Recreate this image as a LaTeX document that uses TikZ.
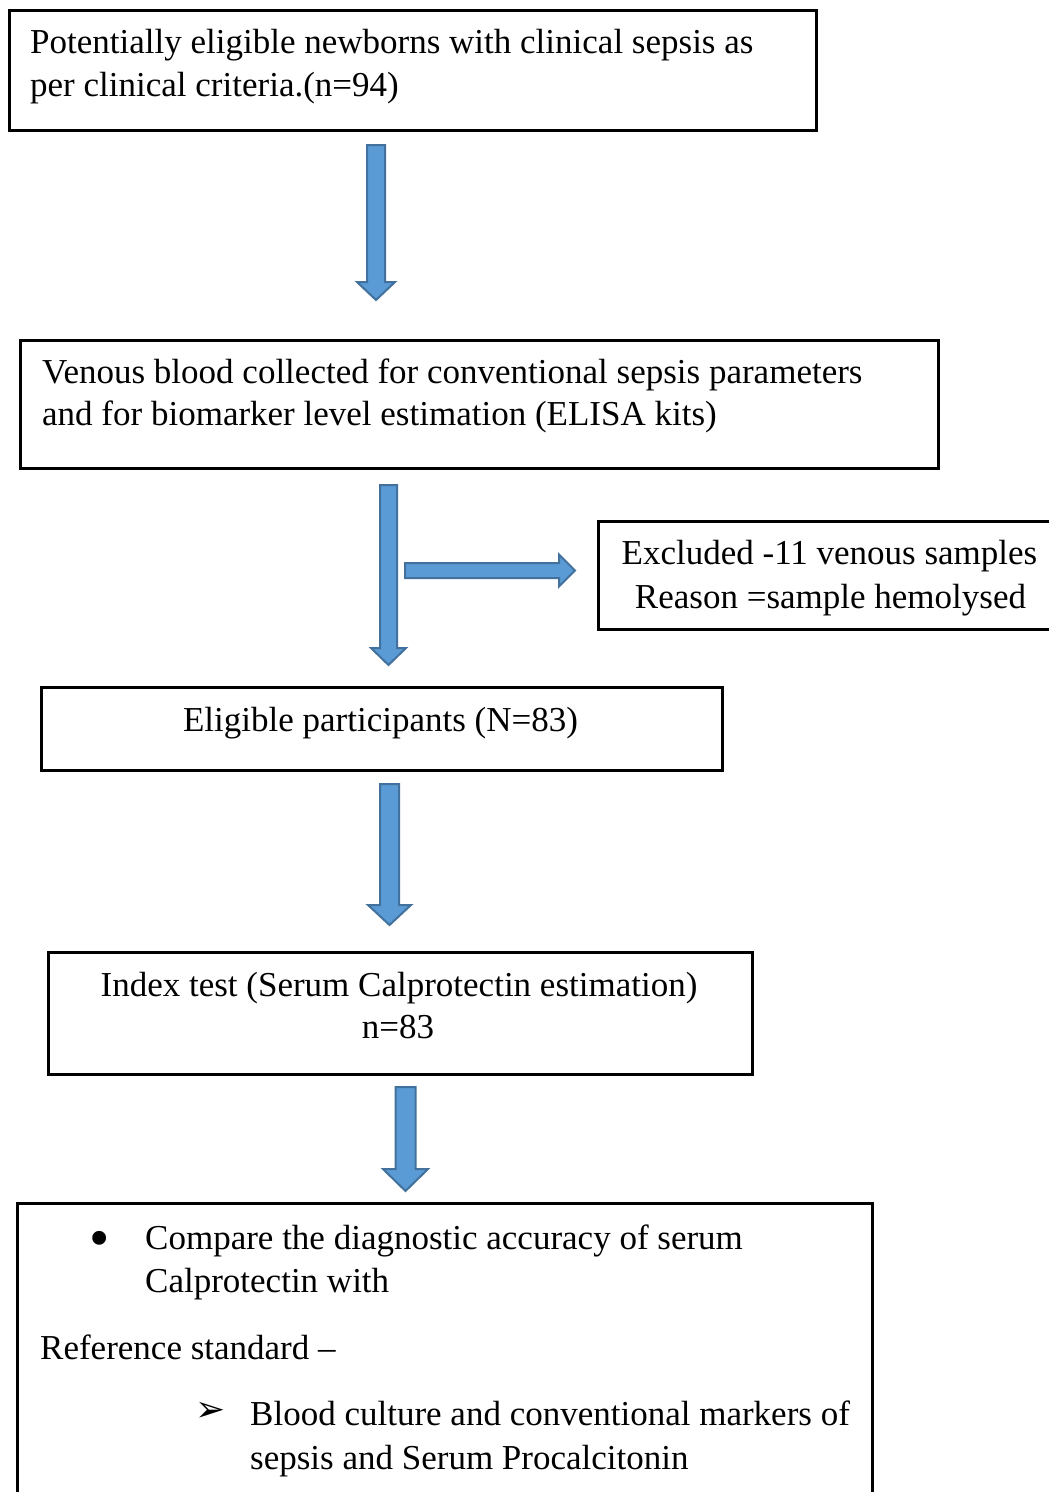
\documentclass[tikz,border=0pt]{standalone}
\usepackage{fontspec}
\setmainfont{Liberation Serif}
\newfontfamily\symfont{DejaVu Sans}
\usetikzlibrary{calc}
\definecolor{arrfill}{HTML}{5B9BD5}
\definecolor{arrdraw}{HTML}{41719C}
\tikzset{
  box/.style={draw=black, line width=2.5pt, rectangle, inner sep=0pt, anchor=north west},
  txt/.style={inner sep=0pt, font=\fontsize{35}{43}\selectfont},
  barrow/.style={fill=arrfill, draw=arrdraw, line width=2pt, line join=miter}
}
% vertical block arrow: start, tip, shaft half width, head half width, head length
\newcommand\blockarrowV[5]{\draw[barrow] let \p1=(#1), \p2=(#2) in
  (\x1-#3,\y1) -- (\x1+#3,\y1) -- (\x1+#3,\y2+#5) -- (\x1+#4,\y2+#5) -- (\x1,\y2)
  -- (\x1-#4,\y2+#5) -- (\x1-#3,\y2+#5) -- cycle;}
% horizontal block arrow: start, tip, shaft half width, head half width, head length
\newcommand\blockarrowH[5]{\draw[barrow] let \p1=(#1), \p2=(#2) in
  (\x1,\y1+#3) -- (\x2-#5,\y1+#3) -- (\x2-#5,\y1+#4) -- (\x2,\y1) -- (\x2-#5,\y1-#4)
  -- (\x2-#5,\y1-#3) -- (\x1,\y1-#3) -- cycle;}
\begin{document}
\begin{tikzpicture}[x=1pt, y=-1pt]
\clip (0,0) rectangle (1049,1492);
\fill[white] (0,0) rectangle (1049,1492);

% boxes
\node[box, minimum width=807, minimum height=120] (b1) at (8,9) {};
\node[box, minimum width=918, minimum height=128] (b2) at (19,339) {};
\node[box, minimum width=480, minimum height=108] (bx) at (597,520) {};
\node[box, minimum width=681, minimum height=83] (b3) at (40,686) {};
\node[box, minimum width=704, minimum height=122] (b4) at (47,951) {};
\node[box, minimum width=855, minimum height=330] (b5) at (16,1202) {};

% texts
\node[txt, anchor=base west] (t1a) at (30,53) {Potentially eligible newborns with clinical sepsis as};
\node[txt, anchor=base west] (t1b) at (30,96) {per clinical criteria.(n=94)};
\node[txt, anchor=base west] (t2a) at (42,383) {Venous blood collected for conventional sepsis parameters};
\node[txt, anchor=base west] (t2b) at (42,425) {and for biomarker level estimation (ELISA kits)};
\node[txt, anchor=base] (txa) at (829.5,564) {Excluded -11 venous samples};
\node[txt, anchor=base] (txb) at (830.5,608) {Reason =sample hemolysed};
\node[txt, anchor=base] (t3) at (380.5,731) {Eligible participants (N=83)};
\node[txt, anchor=base] (t4a) at (399,996) {Index test (Serum Calprotectin estimation)};
\node[txt, anchor=base] (t4b) at (398,1038) {n=83};
\node[txt, anchor=center] (t5bul) at (100,1244) {\fontsize{58}{60}\selectfont\textbullet};
\node[txt, anchor=base west] (t5a) at (145,1249) {Compare the diagnostic accuracy of serum};
\node[txt, anchor=base west] (t5b) at (145,1292) {Calprotectin with};
\node[txt, anchor=base west] (t5c) at (40,1359) {Reference standard –};
\node[txt, anchor=center] (t5arr) at (210.5,1412) {\symfont\fontsize{36}{40}\selectfont ➢};
\node[txt, anchor=base west] (t5d) at (250,1425) {Blood culture and conventional markers of};
\node[txt, anchor=base west] (t5e) at (250,1469) {sepsis and Serum Procalcitonin};

% arrow end points
\coordinate (a1s) at (376,145);   \coordinate (a1e) at (376,300);
\coordinate (a2s) at (388.5,485); \coordinate (a2e) at (388.5,665);
\coordinate (ahs) at (405,570.5); \coordinate (ahe) at (575,570.5);
\coordinate (a3s) at (389.5,784); \coordinate (a3e) at (389.5,925);
\coordinate (a4s) at (405.5,1087);\coordinate (a4e) at (405.5,1191);

\blockarrowV{a1s}{a1e}{9pt}{19pt}{18pt}
\blockarrowV{a2s}{a2e}{8.5pt}{17.5pt}{17pt}
\blockarrowH{ahs}{ahe}{7.5pt}{16pt}{16pt}
\blockarrowV{a3s}{a3e}{9.5pt}{21.5pt}{20pt}
\blockarrowV{a4s}{a4e}{10pt}{22.5pt}{22pt}
\end{tikzpicture}
\end{document}
